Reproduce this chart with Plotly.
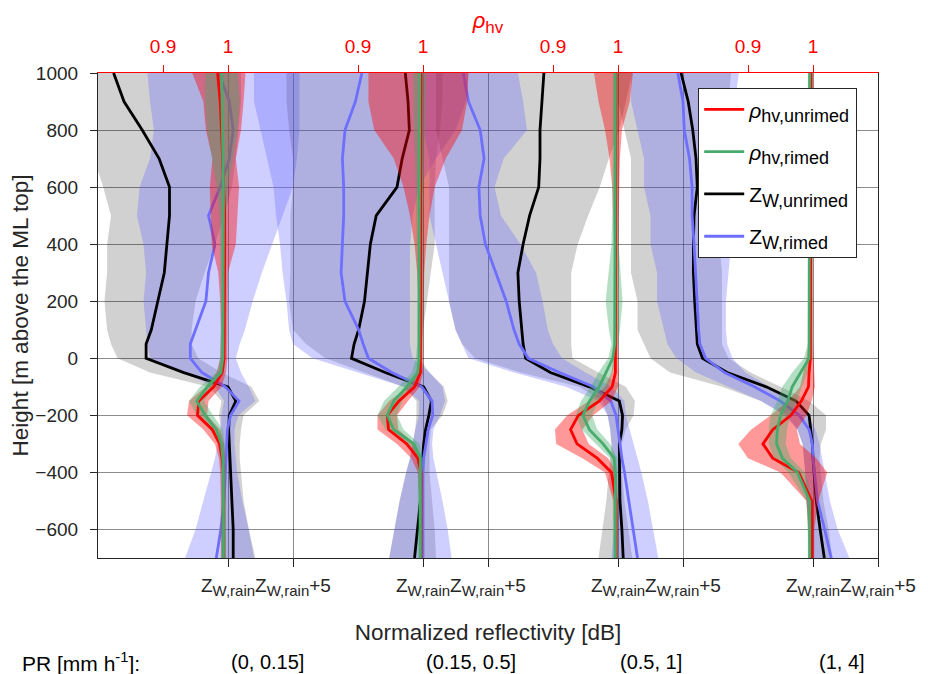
import plotly.graph_objects as go

# ---------------- data ----------------
HEIGHT = [1000, 900, 800, 700, 600, 500, 400, 300, 200, 100, 50, 0, -50, -100,
          -150, -200, -250, -300, -350, -400, -500, -600, -700]

PR_LABELS = ["(0, 0.15]", "(0.15, 0.5]", "(0.5, 1]", "(1, 4]"]
Z_TICK_VALS = [0, 5]
RHO_TICK_VALS = [0.9, 1.0]
RHO_TICK_TEXT = ["0.9", "1"]
Y_TICKS = [-600, -400, -200, 0, 200, 400, 600, 800, 1000]

# panel 1  (PR 0-0.15)
zu1 = [-8.8, -8.0, -6.6, -5.3, -4.5, -4.5, -4.7, -4.9, -5.4, -5.9, -6.3, -6.3, -3.4, 0.0, 0.6, 0.1, 0.05, 0.1, 0.15, 0.2, 0.3, 0.4, 0.4]
zu1_lo = [-12.5, -12.0, -11.0, -10.3, -9.6, -9.0, -9.3, -9.3, -9.5, -9.3, -9.0, -8.5, -6.0, -1.5, -0.5, -0.7, -0.5, -0.4, -0.3, -0.3, -0.3, -0.2, -0.4]
zu1_hi = [1.0, 1.0, 0.8, 0.6, 0.3, -0.3, -1.0, -1.8, -2.5, -2.8, -2.8, -2.3, -0.5, 1.8, 2.4, 1.2, 1.0, 0.9, 0.9, 1.0, 1.2, 1.6, 2.1]
zr1 = [-0.7, 0.1, 0.4, 0.1, -0.6, -1.5, -1.0, -1.5, -1.7, -2.5, -2.9, -2.9, -2.0, -0.2, 0.85, 0.2, -0.05, -0.1, -0.15, -0.2, -0.3, -0.55, -0.9]
zr1_lo = [-6.2, -6.0, -5.7, -6.0, -6.8, -7.0, -6.5, -6.3, -6.5, -6.3, -6.2, -6.0, -3.5, -1.0, -0.3, -0.5, -0.6, -0.8, -1.0, -1.3, -1.9, -2.5, -3.3]
zr1_hi = [5.5, 5.5, 5.5, 5.3, 5.0, 4.2, 3.4, 2.6, 1.9, 1.3, 0.9, 0.6, 1.0, 1.6, 2.1, 0.8, 0.5, 0.5, 0.6, 0.7, 1.1, 1.6, 2.0]
ru1 = [0.984, 0.988, 0.990, 0.992, 0.994, 0.995, 0.995, 0.995, 0.995, 0.995, 0.995, 0.994, 0.991, 0.978, 0.955, 0.953, 0.976, 0.987, 0.991, 0.993, 0.993, 0.993, 0.993]
ru1_lo = [0.945, 0.962, 0.966, 0.976, 0.972, 0.973, 0.975, 0.985, 0.988, 0.989, 0.989, 0.988, 0.983, 0.966, 0.940, 0.937, 0.962, 0.980, 0.986, 0.988, 0.989, 0.989, 0.989]
ru1_hi = [1.027, 1.024, 1.020, 1.012, 1.017, 1.014, 1.012, 1.000, 0.999, 0.999, 0.999, 0.999, 0.997, 0.990, 0.970, 0.968, 0.988, 0.994, 0.996, 0.997, 0.997, 0.997, 0.997]
rr1 = [0.990, 0.991, 0.992, 0.993, 0.993, 0.993, 0.993, 0.993, 0.993, 0.993, 0.993, 0.992, 0.989, 0.968, 0.952, 0.965, 0.982, 0.990, 0.992, 0.993, 0.993, 0.993, 0.993]
rr1_lo = [0.965, 0.965, 0.968, 0.975, 0.983, 0.987, 0.988, 0.989, 0.989, 0.989, 0.989, 0.988, 0.982, 0.957, 0.940, 0.952, 0.972, 0.985, 0.988, 0.989, 0.989, 0.989, 0.989]
rr1_hi = [1.015, 1.018, 1.015, 1.008, 1.000, 0.997, 0.997, 0.997, 0.997, 0.997, 0.997, 0.996, 0.994, 0.978, 0.963, 0.977, 0.992, 0.995, 0.996, 0.997, 0.997, 0.997, 0.997]

# panel 2  (PR 0.15-0.5)
zu2 = [-1.36, -1.15, -1.05, -1.6, -2.0, -3.6, -4.05, -4.3, -4.5, -4.95, -5.3, -5.5, -2.9, 0.05, 0.65, 0.45, 0.2, 0.05, -0.05, -0.1, -0.2, -0.45, -0.65]
zu2_lo = [-10.5, -10.5, -10.3, -10.0, -10.0, -10.2, -10.2, -10.2, -10.3, -10.0, -9.0, -7.5, -4.5, -1.5, -0.5, -0.5, -0.6, -0.8, -1.0, -1.3, -1.8, -2.2, -2.6]
zu2_hi = [1.5, 1.5, 1.3, 1.0, 0.9, 0.9, 0.9, 0.6, 0.3, 0.0, -0.1, -0.3, 0.5, 1.6, 1.9, 1.5, 0.6, 0.5, 0.5, 0.5, 0.7, 0.9, 1.0]
zr2 = [-4.7, -5.2, -6.0, -6.2, -6.1, -6.1, -6.2, -6.3, -6.0, -4.95, -4.6, -4.2, -2.4, -0.1, 0.7, 0.75, 0.4, 0.2, 0.05, 0.0, 0.0, 0.0, 0.0]
zr2_lo = [-13.0, -13.0, -12.5, -12.0, -11.5, -11.3, -11.0, -10.8, -10.5, -10.3, -10.0, -8.5, -5.0, -1.5, -0.3, -0.3, -0.6, -0.8, -1.0, -1.3, -1.8, -2.2, -2.6]
zr2_hi = [3.5, 3.3, 2.5, 1.0, -0.3, -0.8, -1.0, -1.0, -1.0, -1.0, -1.0, -0.8, 0.5, 1.5, 1.7, 1.3, 0.8, 0.7, 0.8, 1.0, 1.5, 1.9, 2.2]
ru2 = [0.997, 0.997, 0.997, 0.997, 0.997, 0.997, 0.997, 0.997, 0.997, 0.997, 0.997, 0.997, 0.996, 0.987, 0.963, 0.945, 0.947, 0.975, 0.992, 0.997, 0.997, 0.997, 0.997]
ru2_lo = [0.916, 0.916, 0.925, 0.955, 0.970, 0.980, 0.987, 0.991, 0.993, 0.994, 0.994, 0.993, 0.990, 0.977, 0.948, 0.930, 0.930, 0.960, 0.982, 0.992, 0.994, 0.994, 0.994]
ru2_hi = [1.070, 1.068, 1.060, 1.035, 1.018, 1.010, 1.005, 1.002, 1.001, 1.000, 1.000, 1.000, 1.000, 0.995, 0.977, 0.960, 0.962, 0.988, 0.998, 1.000, 0.999, 0.999, 0.999]
rr2 = [0.995, 0.995, 0.995, 0.995, 0.995, 0.995, 0.995, 0.995, 0.995, 0.995, 0.995, 0.994, 0.992, 0.975, 0.955, 0.945, 0.955, 0.986, 0.996, 0.996, 0.996, 0.996, 0.996]
rr2_lo = [0.985, 0.985, 0.986, 0.988, 0.989, 0.990, 0.990, 0.991, 0.991, 0.991, 0.991, 0.989, 0.983, 0.962, 0.940, 0.930, 0.942, 0.975, 0.990, 0.992, 0.992, 0.992, 0.992]
rr2_hi = [1.005, 1.005, 1.004, 1.002, 1.001, 1.000, 1.000, 0.999, 0.999, 0.999, 0.999, 0.999, 0.998, 0.987, 0.968, 0.960, 0.970, 0.995, 1.000, 1.000, 1.000, 1.000, 1.000]

# panel 3  (PR 0.5-1)
zu3 = [-5.7, -5.85, -6.0, -6.0, -6.1, -6.8, -7.3, -7.7, -7.6, -7.4, -7.3, -7.1, -5.2, -2.2, 0.1, 0.35, 0.3, 0.1, 0.1, 0.1, 0.15, 0.3, 0.4]
zu3_lo = [-14.0, -14.0, -14.0, -13.5, -13.0, -13.0, -13.0, -13.0, -13.0, -12.5, -12.0, -11.0, -7.5, -3.0, -1.2, -0.8, -0.6, -0.5, -0.6, -0.7, -0.9, -1.2, -1.5]
zu3_hi = [1.1, 0.6, 0.1, -0.7, -1.4, -2.3, -3.1, -3.6, -3.6, -3.6, -3.6, -3.5, -1.5, 0.6, 1.3, 1.2, 0.6, 0.3, 0.3, 0.3, 0.5, 0.8, 1.1]
zr3 = [-11.9, -11.5, -10.6, -10.3, -10.7, -10.6, -10.2, -9.4, -8.6, -8.0, -7.6, -6.9, -4.5, -1.9, -0.55, -0.15, 0.0, 0.1, 0.3, 0.5, 0.85, 1.2, 1.5]
zr3_lo = [-15.0, -15.0, -15.0, -14.5, -14.5, -14.5, -14.0, -13.5, -13.0, -12.5, -12.0, -11.5, -8.0, -4.0, -1.5, -0.8, -0.6, -0.5, -0.4, -0.3, -0.2, -0.3, -0.5]
zr3_hi = [-7.7, -7.3, -7.0, -8.8, -9.5, -9.0, -7.5, -6.3, -5.8, -5.4, -5.0, -4.3, -2.5, -0.5, 0.5, 0.6, 0.9, 1.2, 1.5, 1.8, 2.3, 2.7, 3.1]
ru3 = [0.997, 0.997, 0.997, 0.997, 0.997, 0.997, 0.997, 0.997, 0.997, 0.997, 0.997, 0.997, 0.996, 0.991, 0.971, 0.939, 0.927, 0.937, 0.968, 0.990, 0.997, 0.997, 0.997]
ru3_lo = [0.963, 0.970, 0.980, 0.987, 0.991, 0.993, 0.994, 0.994, 0.994, 0.994, 0.994, 0.993, 0.990, 0.980, 0.955, 0.922, 0.903, 0.905, 0.945, 0.980, 0.993, 0.994, 0.994]
ru3_hi = [1.023, 1.018, 1.006, 1.003, 1.002, 1.001, 1.001, 1.000, 1.000, 1.000, 1.000, 1.000, 1.001, 1.000, 0.990, 0.962, 0.945, 0.955, 0.985, 0.998, 1.000, 1.000, 1.000]
rr3 = [0.996, 0.996, 0.996, 0.996, 0.996, 0.996, 0.996, 0.996, 0.996, 0.996, 0.995, 0.992, 0.981, 0.971, 0.956, 0.946, 0.956, 0.977, 0.994, 0.996, 0.996, 0.996, 0.996]
rr3_lo = [0.992, 0.992, 0.992, 0.992, 0.992, 0.991, 0.990, 0.985, 0.981, 0.986, 0.990, 0.985, 0.970, 0.958, 0.943, 0.935, 0.944, 0.966, 0.988, 0.992, 0.992, 0.992, 0.992]
rr3_hi = [1.000, 1.000, 1.000, 1.000, 1.000, 1.000, 1.001, 1.004, 1.007, 1.003, 1.000, 0.998, 0.992, 0.985, 0.970, 0.960, 0.968, 0.988, 0.999, 1.000, 1.000, 1.000, 1.000]

# panel 4  (PR 1-4)
zu4 = [-10.15, -9.6, -9.25, -9.0, -8.9, -9.15, -9.2, -9.2, -9.1, -9.0, -8.9, -8.5, -6.6, -3.6, -1.3, -0.3, -0.15, -0.05, 0.0, 0.1, 0.25, 0.55, 0.87]
zu4_lo = [-15.0, -15.0, -14.5, -14.0, -14.0, -14.0, -14.0, -14.0, -13.5, -13.5, -13.0, -12.5, -11.0, -7.0, -4.0, -2.0, -1.2, -0.8, -0.7, -0.6, -0.5, -0.4, -0.3]
zu4_hi = [-6.3, -6.5, -7.0, -7.0, -7.0, -7.2, -7.2, -7.0, -7.0, -7.0, -7.0, -6.5, -4.8, -2.5, -0.3, 1.0, 1.0, 0.6, 0.5, 0.6, 0.8, 1.2, 1.5]
zr4 = [-10.4, -10.0, -9.9, -9.5, -9.3, -9.3, -9.15, -9.05, -8.9, -8.8, -8.7, -8.25, -6.8, -4.5, -2.5, -1.05, -0.3, -0.05, 0.0, 0.1, 0.35, 0.9, 1.4]
zr4_lo = [-14.0, -14.0, -13.5, -13.0, -13.0, -12.5, -12.5, -12.0, -12.0, -11.5, -11.2, -10.5, -9.0, -6.5, -4.0, -2.2, -1.2, -0.8, -0.7, -0.6, -0.5, -0.3, -0.2]
zr4_hi = [-5.7, -6.0, -6.3, -6.3, -6.3, -6.3, -6.3, -6.5, -6.7, -6.7, -6.6, -6.2, -5.2, -3.3, -1.5, -0.4, 0.2, 0.5, 0.7, 0.9, 1.3, 1.9, 2.8]
ru4 = [0.997, 0.997, 0.997, 0.997, 0.997, 0.997, 0.997, 0.997, 0.997, 0.997, 0.997, 0.996, 0.994, 0.993, 0.982, 0.966, 0.938, 0.923, 0.938, 0.978, 0.998, 0.998, 0.998]
ru4_lo = [0.993, 0.993, 0.993, 0.993, 0.993, 0.993, 0.993, 0.993, 0.993, 0.993, 0.993, 0.990, 0.985, 0.980, 0.962, 0.935, 0.905, 0.885, 0.900, 0.950, 0.990, 0.993, 0.993]
ru4_hi = [1.000, 1.000, 1.000, 1.000, 1.000, 1.000, 1.000, 1.000, 1.000, 1.000, 1.000, 1.000, 1.002, 1.003, 0.998, 0.990, 0.975, 0.980, 1.005, 1.022, 1.008, 1.002, 1.002]
rr4 = [0.995, 0.995, 0.995, 0.995, 0.995, 0.995, 0.995, 0.995, 0.995, 0.995, 0.995, 0.994, 0.981, 0.968, 0.961, 0.950, 0.945, 0.944, 0.953, 0.976, 0.995, 0.995, 0.995]
rr4_lo = [0.992, 0.992, 0.992, 0.992, 0.992, 0.992, 0.992, 0.992, 0.992, 0.992, 0.992, 0.986, 0.968, 0.953, 0.945, 0.935, 0.932, 0.932, 0.940, 0.962, 0.990, 0.992, 0.992]
rr4_hi = [0.999, 0.999, 0.999, 0.999, 0.999, 0.999, 0.999, 0.999, 0.999, 0.999, 0.999, 0.999, 0.992, 0.983, 0.975, 0.965, 0.960, 0.958, 0.966, 0.988, 0.999, 0.999, 0.999]

# ---------------- assemble ----------------
PANELS = [
    dict(zu=zu1, zu_lo=zu1_lo, zu_hi=zu1_hi, zr=zr1, zr_lo=zr1_lo, zr_hi=zr1_hi,
         ru=ru1, ru_lo=ru1_lo, ru_hi=ru1_hi, rr=rr1, rr_lo=rr1_lo, rr_hi=rr1_hi),
    dict(zu=zu2, zu_lo=zu2_lo, zu_hi=zu2_hi, zr=zr2, zr_lo=zr2_lo, zr_hi=zr2_hi,
         ru=ru2, ru_lo=ru2_lo, ru_hi=ru2_hi, rr=rr2, rr_lo=rr2_lo, rr_hi=rr2_hi),
    dict(zu=zu3, zu_lo=zu3_lo, zu_hi=zu3_hi, zr=zr3, zr_lo=zr3_lo, zr_hi=zr3_hi,
         ru=ru3, ru_lo=ru3_lo, ru_hi=ru3_hi, rr=rr3, rr_lo=rr3_lo, rr_hi=rr3_hi),
    dict(zu=zu4, zu_lo=zu4_lo, zu_hi=zu4_hi, zr=zr4, zr_lo=zr4_lo, zr_hi=zr4_hi,
         ru=ru4, ru_lo=ru4_lo, ru_hi=ru4_hi, rr=rr4, rr_lo=rr4_lo, rr_hi=rr4_hi),
]

RED = "rgb(255,0,0)"
GREEN = "rgb(72,170,108)"
BLACK = "rgb(0,0,0)"
BLUE = "rgb(110,110,255)"
RED_F = "rgba(255,0,0,0.40)"
GREEN_F = "rgba(60,170,100,0.38)"
GRAY_F = "rgba(0,0,0,0.18)"
BLUE_F = "rgba(105,105,255,0.32)"
GRID = "rgba(0,0,0,0.45)"

FONT = "Liberation Sans, Arial, Helvetica, sans-serif"
FS = 19      # tick labels
FL = 22.5    # axis labels


def sub(text, px):
    return "<sub><span style='font-size:%dpx'>%s</span></sub>" % (px, text)


Z_TICK_TEXT = ["Z" + sub("W,rain", 15), "Z" + sub("W,rain", 15) + "+5"]

fig = go.Figure()


def zax(k):
    return "x" if k == 0 else "x%d" % (k + 1)


def rax(k):
    return "x%d" % (k + 5)


def band(xaxis, lo, hi, color, group):
    fig.add_trace(go.Scatter(
        x=list(lo) + list(hi)[::-1], y=HEIGHT + HEIGHT[::-1],
        xaxis=xaxis, yaxis="y", fill="toself", fillcolor=color,
        line=dict(width=0), mode="lines", hoverinfo="skip",
        showlegend=False, legendgroup=group))


# bands: reflectivity first, then rho_hv
for k, p in enumerate(PANELS):
    band(zax(k), p["zu_lo"], p["zu_hi"], GRAY_F, "zu")
    band(zax(k), p["zr_lo"], p["zr_hi"], BLUE_F, "zr")
for k, p in enumerate(PANELS):
    band(rax(k), p["ru_lo"], p["ru_hi"], RED_F, "ru")
    band(rax(k), p["rr_lo"], p["rr_hi"], GREEN_F, "rr")

NAMES = {
    "ru": "<i>ρ</i>" + sub("hv,unrimed", 18),
    "rr": "<i>ρ</i>" + sub("hv,rimed", 18),
    "zu": "Z" + sub("W,unrimed", 18),
    "zr": "Z" + sub("W,rimed", 18),
}
for key, color, is_rho in [("ru", RED, True), ("rr", GREEN, True),
                           ("zu", BLACK, False), ("zr", BLUE, False)]:
    for k, p in enumerate(PANELS):
        fig.add_trace(go.Scatter(
            x=p[key], y=HEIGHT, xaxis=rax(k) if is_rho else zax(k), yaxis="y",
            mode="lines", line=dict(color=color, width=2.8),
            name=NAMES[key], legendgroup=key, showlegend=(k == 0)))

AXC = "#262626"
# the page body adds an 8 px offset, so the figure is 8 px smaller than the window
layout = dict(
    width=920, height=666,
    margin=dict(l=90, r=50, t=65, b=116, autoexpand=False),
    paper_bgcolor="white", plot_bgcolor="white",
    font=dict(family=FONT, size=FS, color=AXC),
    showlegend=True,
    legend=dict(x=(698 - 98) / 780, y=1 - (88 - 73) / 485, xanchor="left", yanchor="top",
                bgcolor="white", bordercolor=AXC, borderwidth=1.2,
                font=dict(family=FONT, size=21, color="black"),
                tracegroupgap=12, itemwidth=40),
    yaxis=dict(range=[-700, 1000], tickvals=Y_TICKS, ticks="outside", ticklen=7,
               tickcolor=AXC, showline=True, linecolor=AXC, linewidth=1.2, mirror=True,
               showgrid=True, gridcolor=GRID, gridwidth=1, zeroline=False,
               ticklabelstandoff=8, automargin=False,
               title=dict(text="Height [m above the ML top]", standoff=4,
                          font=dict(size=FL))),
)

for k in range(4):
    ax = dict(range=[-10 - 15 * k, 50 - 15 * k], tickvals=Z_TICK_VALS, ticktext=Z_TICK_TEXT,
              ticks="outside", ticklen=8, tickcolor=AXC, showline=True, linecolor=AXC,
              linewidth=1.2, showgrid=True, gridcolor=GRID, gridwidth=1,
              zeroline=False, anchor="y", side="bottom", tickangle=0, automargin=False,
              ticklabelstandoff=2)
    if k == 0:
        ax["domain"] = [0, 1]
        ax["title"] = dict(text="Normalized reflectivity [dB]", standoff=26,
                           font=dict(size=FL))
    else:
        ax["overlaying"] = "x"
    layout["xaxis" if k == 0 else "xaxis%d" % (k + 1)] = ax

for k in range(4):
    ax = dict(range=[1 + (-10 - 15 * k) / 50, 1 + (50 - 15 * k) / 50],
              tickvals=RHO_TICK_VALS, ticktext=RHO_TICK_TEXT,
              ticks="outside", ticklen=7, tickcolor="red", tickfont=dict(color="red"),
              showline=True, linecolor="red", linewidth=1.2, showgrid=False,
              zeroline=False, anchor="y", side="top", overlaying="x", tickangle=0,
              ticklabelstandoff=4, automargin=False)
    if k == 0:
        ax["title"] = dict(text="<i>ρ</i>" + sub("hv", 17),
                           font=dict(color="red", size=22), standoff=24)
    layout["xaxis%d" % (k + 5)] = ax

PR_Y = (558 - 662) / 485
annotations = [dict(text="PR [mm h<sup>-1</sup>]:", xref="paper", yref="paper",
                    x=(20 - 98) / 780, y=PR_Y, xanchor="left",
                    yanchor="middle", showarrow=False, font=dict(size=21, color="black"))]
PR_CENTERS = [267, 471, 651, 842]
for lab, cx in zip(PR_LABELS, PR_CENTERS):
    annotations.append(dict(text=lab, xref="paper", yref="paper",
                            x=(cx - 98) / 780, y=PR_Y, xanchor="center",
                            yanchor="middle", showarrow=False,
                            font=dict(size=20, color="black")))
layout["annotations"] = annotations

fig.update_layout(**layout)
fig.write_html("out.html")
